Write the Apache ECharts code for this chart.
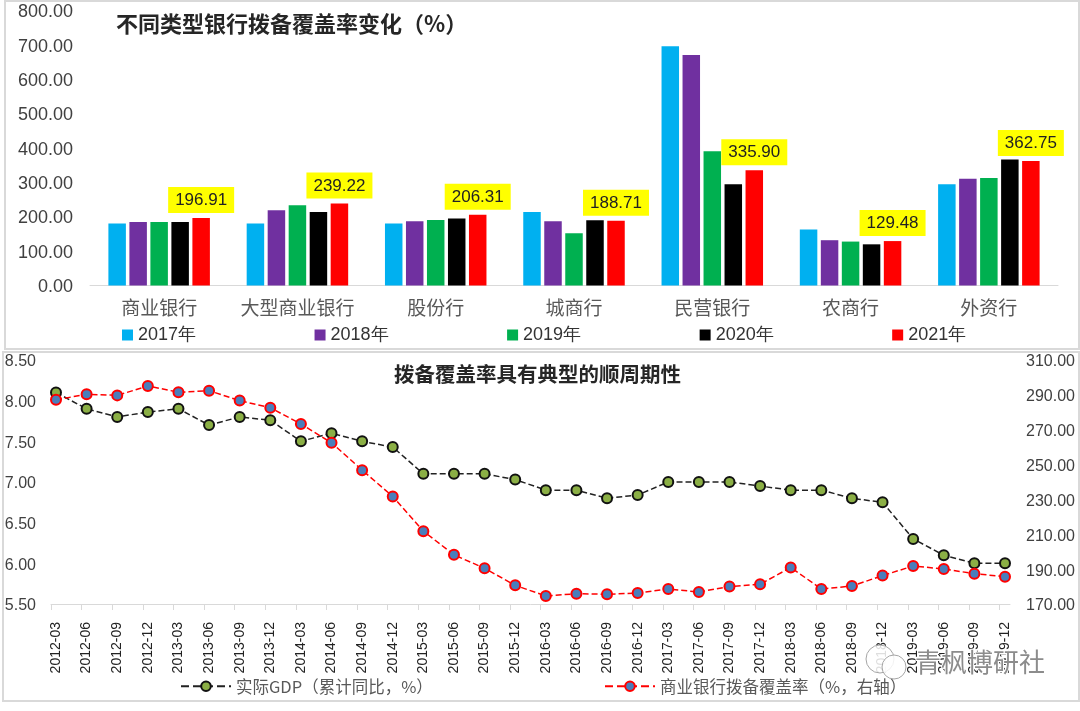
<!DOCTYPE html>
<html>
<head>
<meta charset="utf-8">
<style>
  html, body { margin: 0; padding: 0; background: #fff; }
  #main { width: 1080px; height: 711px; }
</style>
<script src="https://cdn.jsdelivr.net/npm/echarts@6/dist/echarts.min.js"></script>
</head>
<body>
<div id="main"></div>
<script>
var bankTypes = ['商业银行', '大型商业银行', '股份行', '城商行', '民营银行', '农商行', '外资行'];
var yearNames = ['2017年', '2018年', '2019年', '2020年', '2021年'];
var yearColors = ['#00B0F0', '#7030A0', '#00B050', '#000000', '#FF0000'];
var v2017 = [181, 181, 181, 214, 697, 163, 295];
var v2018 = [185, 219, 187, 187, 672, 132, 311];
var v2019 = [185, 234, 191, 152, 391, 128, 313];
var v2020 = [185, 214, 195, 190, 295, 120, 367];
var v2021 = [196.91, 239.22, 206.31, 188.71, 335.90, 129.48, 362.75];

var quarters = ['2012-03', '2012-06', '2012-09', '2012-12', '2013-03', '2013-06', '2013-09', '2013-12',
  '2014-03', '2014-06', '2014-09', '2014-12', '2015-03', '2015-06', '2015-09', '2015-12',
  '2016-03', '2016-06', '2016-09', '2016-12', '2017-03', '2017-06', '2017-09', '2017-12',
  '2018-03', '2018-06', '2018-09', '2018-12', '2019-03', '2019-06', '2019-09', '2019-12'];
var gdp = [8.1, 7.9, 7.8, 7.86, 7.9, 7.7, 7.8, 7.76, 7.5, 7.6, 7.5, 7.43, 7.1, 7.1, 7.1, 7.03,
  6.9, 6.9, 6.8, 6.84, 7.0, 7.0, 7.0, 6.95, 6.9, 6.9, 6.8, 6.75, 6.3, 6.1, 6.0, 6.0];
var coverage = [287.2, 290.3, 289.7, 295.1, 291.5, 292.4, 286.7, 282.6, 273.3, 262.5, 246.8, 231.7, 211.8, 198.2, 190.5, 180.7,
  174.6, 175.9, 175.6, 176.3, 178.6, 176.9, 180, 181.3, 191, 178.6, 180.3, 186.3, 191.8, 190.1, 187.4, 185.7];
var rightTicks = [170, 190, 210, 230, 250, 270, 290, 310];

var numFont = '"Liberation Sans", sans-serif';
var cjkFont = '"Noto Sans CJK SC", sans-serif';
var fixed2 = function (v) { return Number(v).toFixed(2); };

var barValues = [v2017, v2018, v2019, v2020, v2021];
var barSeries = yearNames.map(function (name, i) {
  var s = {
    name: name,
    type: 'bar',
    xAxisIndex: 0,
    yAxisIndex: 0,
    barWidth: 17.5,
    barGap: '20%',
    itemStyle: { color: yearColors[i] },
    data: barValues[i]
  };
  // 只有2021年带黄底标签
  if (i === 4) {
    s.label = {
      show: true,
      position: 'top',
      distance: 5,
      formatter: function (p) { return p.value.toFixed(2); },
      backgroundColor: '#FFFF00',
      padding: [5, 7, 4, 7],
      fontFamily: numFont,
      fontSize: 17,
      color: '#222'
    };
  }
  return s;
});

var option = {
  animation: false,
  backgroundColor: '#fff',
  title: [
    {
      text: '不同类型银行拨备覆盖率变化（%）',
      left: 116, top: 13, padding: 0,
      textStyle: { fontFamily: cjkFont, fontSize: 22, fontWeight: 'bold', color: '#262626' }
    },
    {
      text: '拨备覆盖率具有典型的顺周期性',
      left: 394, top: 364, padding: 0,
      textStyle: { fontFamily: cjkFont, fontSize: 20.5, fontWeight: 'bold', color: '#262626' }
    }
  ],
  legend: [
    {
      data: yearNames, left: 122, top: 326, padding: 0,
      icon: 'rect', itemWidth: 11, itemHeight: 11, itemGap: 118.5,
      textStyle: { fontFamily: numFont, fontSize: 18, color: '#333' }
    },
    {
      data: ['实际GDP（累计同比，%）'], left: 180, top: 678, padding: 0,
      itemWidth: 50, itemHeight: 12,
      textStyle: { fontFamily: cjkFont, fontSize: 16.5, color: '#595959' }
    },
    {
      data: ['商业银行拨备覆盖率（%，右轴）'], left: 604, top: 678, padding: 0,
      itemWidth: 50, itemHeight: 12,
      textStyle: { fontFamily: cjkFont, fontSize: 16.5, color: '#595959' }
    }
  ],
  grid: [
    { left: 90, width: 968, top: 11, height: 274.5 },
    { left: 56, width: 949, top: 360, height: 244 },
    // 原图刻度比数据点略偏左，横轴线单独画
    { left: 51, width: 959, top: 360, height: 244 }
  ],
  xAxis: [
    {
      type: 'category', gridIndex: 0, data: bankTypes,
      axisLine: { lineStyle: { color: '#D9D9D9', width: 1 } },
      axisTick: { show: false },
      axisLabel: { interval: 0, margin: 13, fontFamily: cjkFont, fontSize: 19, color: '#595959' }
    },
    {
      type: 'category', gridIndex: 1, data: quarters, boundaryGap: false,
      axisLine: { show: false },
      axisTick: { show: false },
      axisLabel: { interval: 0, rotate: 90, margin: 18, fontFamily: numFont, fontSize: 14, color: '#222' }
    },
    {
      type: 'value', gridIndex: 2, min: 0, max: 31.34,
      splitLine: { show: false },
      axisLine: { onZero: false, lineStyle: { color: '#D9D9D9', width: 1 } },
      axisTick: { show: true, length: 6, customValues: quarters.map(function (q, i) { return i; }), lineStyle: { color: '#D9D9D9' } },
      axisLabel: { show: false }
    }
  ],
  yAxis: [
    {
      type: 'value', gridIndex: 0, min: 0, max: 800, interval: 100,
      axisLine: { show: false }, axisTick: { show: false }, splitLine: { show: false },
      axisLabel: { margin: 17, verticalAlign: 'top', lineHeight: 3, formatter: fixed2, fontFamily: numFont, fontSize: 18, color: '#404040' }
    },
    {
      type: 'value', gridIndex: 1, min: 5.5, max: 8.5, interval: 0.5,
      axisLine: { show: false }, axisTick: { show: false }, splitLine: { show: false },
      axisLabel: { margin: 20, verticalAlign: 'top', lineHeight: 4, formatter: fixed2, fontFamily: numFont, fontSize: 16, color: '#404040' }
    },
    {
      type: 'value', gridIndex: 1, position: 'right', min: 170, max: 310,
      axisLine: { show: false }, axisTick: { show: false }, splitLine: { show: false },
      axisLabel: { margin: 21, verticalAlign: 'top', lineHeight: 4, customValues: rightTicks, formatter: fixed2, fontFamily: numFont, fontSize: 16, color: '#404040' }
    },
    { type: 'value', gridIndex: 2, show: false }
  ],
  series: barSeries.concat([
    {
      name: '实际GDP（累计同比，%）',
      type: 'line', xAxisIndex: 1, yAxisIndex: 1, data: gdp,
      symbol: 'circle', symbolSize: 10,
      lineStyle: { color: '#222', width: 1.5, type: 'dashed' },
      itemStyle: { color: '#8BAF45', borderColor: '#111', borderWidth: 2 }
    },
    {
      name: '商业银行拨备覆盖率（%，右轴）',
      type: 'line', xAxisIndex: 1, yAxisIndex: 2, data: coverage,
      symbol: 'circle', symbolSize: 10,
      lineStyle: { color: '#FF0000', width: 1.5, type: 'dashed' },
      itemStyle: { color: '#4A7EBB', borderColor: '#FF0000', borderWidth: 2 }
    }
  ]),
  graphic: [
    // 两块图的浅灰边框
    { type: 'rect', silent: true, z: -1, shape: { x: 5, y: 1, width: 1074, height: 348 }, style: { fill: null, stroke: '#D9D9D9', lineWidth: 2 } },
    { type: 'rect', silent: true, z: -1, shape: { x: 3, y: 352, width: 1076, height: 349 }, style: { fill: null, stroke: '#D9D9D9', lineWidth: 2 } },
    // 水印
    { type: 'circle', silent: true, z: 100, shape: { cx: 880, cy: 659, r: 14 }, style: { fill: 'rgba(255,255,255,0.85)', stroke: '#a6a6a6', lineWidth: 1 } },
    { type: 'circle', silent: true, z: 100, shape: { cx: 894, cy: 667, r: 12 }, style: { fill: 'rgba(255,255,255,0.85)', stroke: '#a6a6a6', lineWidth: 1 } },
    {
      type: 'text', silent: true, z: 100, left: 914, top: 648,
      style: { text: '青枫博研社', fontFamily: cjkFont, fontSize: 26, fill: '#8c8c8c', stroke: '#fff', lineWidth: 2 }
    }
  ]
};

var myChart = echarts.init(document.getElementById('main'), null, { renderer: 'canvas' });
myChart.setOption(option);
</script>
</body>
</html>
